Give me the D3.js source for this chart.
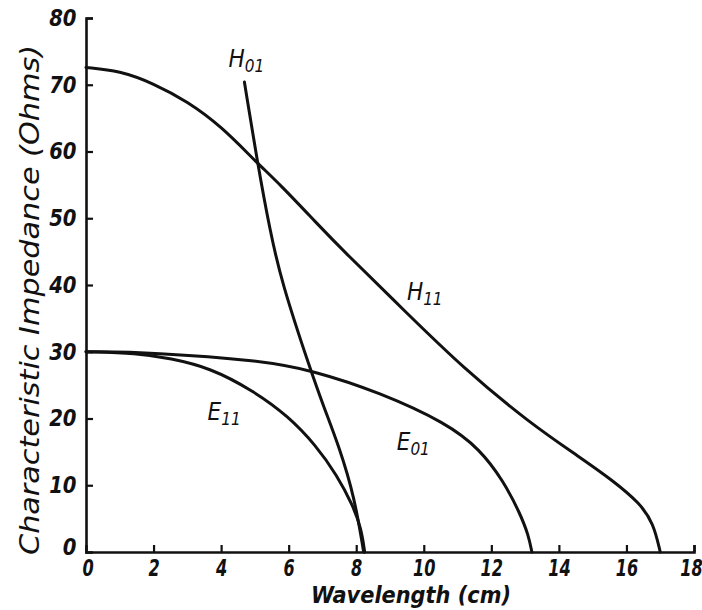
<!DOCTYPE html>
<html><head><meta charset="utf-8">
<script src="https://cdn.jsdelivr.net/npm/d3@7"></script>
<style>
body{margin:0;background:#fff;}
text{font-family:"DejaVu Sans Condensed","DejaVu Sans",sans-serif;font-style:oblique;fill:#111;}
</style></head>
<body><svg id="c" width="702" height="610"></svg>
<script>
// data (x = wavelength cm, y = impedance ohms)
const h11X = [0, 1, 2, 3, 4, 5.08, 5.72, 6.84, 7.6, 9.5, 11.16, 13.14, 14.62, 15.6, 16.4, 16.8, 17.0];
const h11Y = [72.6, 72.1, 70.2, 67.5, 63.8, 58.2, 55.2, 49.2, 45.2, 35.8, 27.6, 19.3, 14.2, 10.7, 7.3, 4.3, 0];
const h01X = [4.69, 5.08, 5.45, 5.78, 6.65, 7.05, 7.5, 7.95, 8.22];
const h01Y = [70.4, 58.2, 48.1, 40.6, 27.2, 21.6, 15.7, 8.2, 0];
const e11X = [0, 1.5, 2.5, 3.67, 4.94, 6.0, 6.8, 7.43, 7.9, 8.15, 8.25];
const e11Y = [30, 29.8, 29.0, 27.6, 24.2, 20.3, 16.0, 11.5, 7.0, 3.5, 0];
const e01X = [0, 2, 5.15, 6.72, 8.70, 10.68, 11.66, 12.35, 12.85, 13.1, 13.2];
const e01Y = [30, 29.9, 28.7, 27.2, 23.9, 19.3, 15.4, 10.7, 5.8, 2.5, 0];
const xTicks = [0, 2, 4, 6, 8, 10, 12, 14, 16, 18];
const yTicks = [0, 10, 20, 30, 40, 50, 60, 70, 80];
const curveNames = ["H", "H", "E", "E"];
const curveSubs = ["01", "11", "11", "01"];
const labelX = [4.22, 9.5, 3.6, 9.2];
const labelY = [72.6, 37.8, 19.8, 15.3];

const svg = d3.select("#c");
const x = d3.scaleLinear().domain([0, 18]).range([86, 694]);
const y = d3.scaleLinear().domain([0, 80]).range([552, 18]);

// axes
const xAxis = d3.axisBottom(x).tickValues(xTicks).tickSize(-7).tickPadding(10).tickFormat(d3.format("d"));
const yAxis = d3.axisLeft(y).tickValues(yTicks).tickSize(-7).tickPadding(10).tickFormat(d3.format("d"));
const gx = svg.append("g").attr("transform", `translate(0,${y(0)})`).call(xAxis);
const gy = svg.append("g").attr("transform", `translate(${x(0)},0)`).call(yAxis);
[gx, gy].forEach(g => {
  g.select(".domain").attr("stroke", "#111").attr("stroke-width", 2.6);
  g.selectAll(".tick line").attr("stroke", "#111").attr("stroke-width", 2.2);
  g.selectAll(".tick text").attr("font-family", "DejaVu Sans Condensed, DejaVu Sans, sans-serif")
    .attr("font-size", 23).attr("font-weight", "bold").attr("font-style", "oblique").attr("fill", "#111");
});
gx.selectAll(".tick text").attr("dy", "0.6em").attr("transform", "scale(0.78,1)");
gy.selectAll(".tick text").attr("transform", "scale(0.95,1)");
gx.selectAll(".tick").filter(d => d === 0).select("line").remove();
gy.selectAll(".tick").filter(d => d === 0).select("line").remove();
gy.selectAll(".tick").filter(d => d === 0).select("text").attr("dy", "0.1em");
gx.selectAll(".tick").filter(d => d === 0).select("text").attr("dx", "2");
gx.selectAll(".tick").filter(d => d === 18).select("text").attr("dx", "-4");

// curves
const line = d3.line().x(d => x(d[0])).y(d => y(d[1])).curve(d3.curveBasis);
const series = [[h01X, h01Y], [h11X, h11Y], [e11X, e11Y], [e01X, e01Y]];
series.forEach(([xs, ys]) => {
  svg.append("path").datum(xs.map((v, i) => [v, ys[i]]))
    .attr("d", line).attr("fill", "none").attr("stroke", "#111")
    .attr("stroke-width", 3).attr("stroke-linecap", "round");
});

// curve labels
curveNames.forEach((n, i) => {
  const t = svg.append("text").attr("x", x(labelX[i])).attr("y", y(labelY[i]))
    .attr("font-size", 24);
  t.append("tspan").text(n);
  t.append("tspan").attr("font-size", 17).attr("dy", 5).text(curveSubs[i]);
});

// axis titles
svg.append("text").attr("x", 411).attr("y", 603).attr("text-anchor", "middle")
  .attr("font-size", 23).attr("font-weight", "bold")
  .attr("textLength", 200).attr("lengthAdjust", "spacingAndGlyphs")
  .text("Wavelength (cm)");
svg.append("text").attr("transform", "translate(39,300) rotate(-90)").attr("text-anchor", "middle")
  .attr("font-size", 27).attr("textLength", 510).attr("lengthAdjust", "spacingAndGlyphs")
  .text("Characteristic Impedance (Ohms)");
</script></body></html>
